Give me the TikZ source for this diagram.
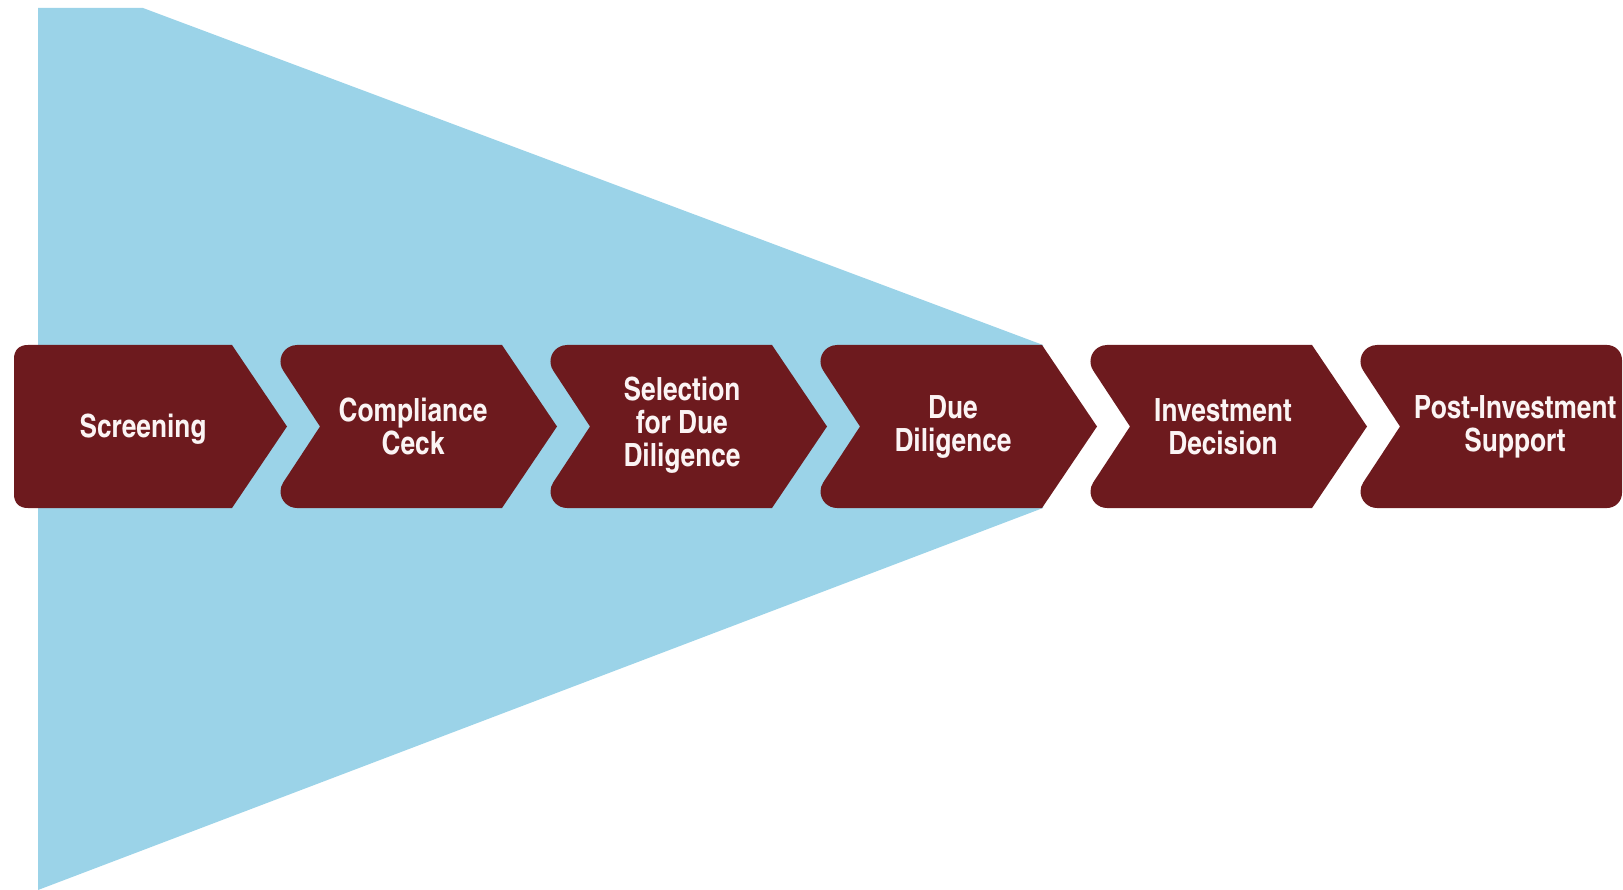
\documentclass[tikz,border=0pt]{standalone}
\usepackage{fontspec}
\newfontfamily\stepfont{TeX Gyre Heros Cn}[BoldFont=* Bold]
\definecolor{funnelblue}{HTML}{9BD3E8}
\definecolor{stepred}{HTML}{6D1A1E}
\definecolor{steptext}{HTML}{FBF4F4}
\tikzset{
  stepfill/.style={fill=stepred},
  steplabel/.style={text=steptext, align=center, inner sep=0pt,
    font=\stepfont\bfseries\fontsize{32}{33}\selectfont}
}
\begin{document}
\begin{tikzpicture}[x=1pt, y=-1pt]
\useasboundingbox (0,0) rectangle (1623,890);
% funnel narrowing towards the due diligence step
\fill[funnelblue] (38,8) -- (143,8) -- (1043,345) -- (1043,508) -- (38,890) -- cycle;
% first step: flat left side
\fill[stepfill] (14,359) .. controls (14,350) and (19,345) .. (28,345) -- (232,345) -- (287,426.5)
  -- (232,508) -- (28,508) .. controls (19,508) and (14,503) .. (14,494) -- cycle;
% middle steps: notched left side with rounded corners, pointed right side
\foreach \k in {1,...,4}{
  \pgfmathsetmacro{\L}{-4+270*\k}
  \pgfmathsetmacro{\N}{50+270*\k}
  \pgfmathsetmacro{\R}{232+270*\k}
  \pgfmathsetmacro{\T}{287+270*\k}
  \fill[stepfill] (\N,426.5) -- (\L+17.3,370.7)
    arc[start angle=146, end angle=270, radius=16.5]
    -- (\R,345) -- (\T,426.5) -- (\R,508) -- (\L+31,508)
    arc[start angle=90, end angle=214, radius=16.5] -- cycle;
}
% last step: notched left side, flat right side
\fill[stepfill] (1400,426.5) -- (1363.3,370.7)
  arc[start angle=146, end angle=270, radius=16.5]
  -- (1607,345) arc[start angle=270, end angle=360, radius=15] -- (1622,493)
  arc[start angle=0, end angle=90, radius=15] -- (1377,508)
  arc[start angle=90, end angle=214, radius=16.5] -- cycle;
% step labels
\node[steplabel] (screening) at (143,429) {Screening};
\node[steplabel] (compliance) at (413,427) {Compliance\\Ceck};
\node[steplabel] (selection) at (682,425) {Selection\\for Due\\Diligence};
\node[steplabel] (duediligence) at (953,427) {Due\\Diligence};
\node[steplabel] (decision) at (1223,427) {Investment\\Decision};
\node[steplabel] (support) at (1515,427) {Post-Investment\\Support};
\end{tikzpicture}
\end{document}
